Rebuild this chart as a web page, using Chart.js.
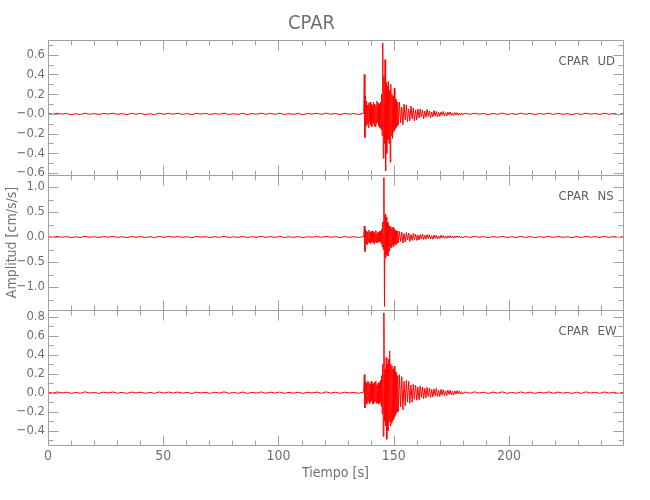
<!DOCTYPE html>
<html>
<head>
<meta charset="utf-8">
<title>CPAR</title>
<script src="https://cdn.jsdelivr.net/npm/chart.js@4.4.1/dist/chart.umd.min.js"></script>
<style>
  html, body { margin: 0; padding: 0; background: #fff; }
</style>
</head>
<body>
<canvas id="chart" width="650" height="500"></canvas>
<script>
const FONT = "'Liberation Sans Narrow', 'DejaVu Sans Condensed', sans-serif";
const TEXT_GRAY = '#707070';
const AXIS_GRAY = '#a0a0a0';

const STATION = 'CPAR';
const COMPONENTS = ['UD', 'NS', 'EW'];

// time axis (s)
const X_MAX = 249.5;
const X_TICKS = [0, 50, 100, 150, 200];
const X_MINOR = [10, 20, 30, 40, 60, 70, 80, 90, 110, 120, 130, 140, 160, 170, 180, 190, 210, 220, 230, 240];

// time windows of each piece of the trace: quiet, event (0.25 s), coda (0.5 s), quiet
const PRE_SPAN = [0, 136.75];
const EVENT_SPAN = [137, 152];
const CODA_SPAN = [152.5, 180];
const POST_SPAN = [181, 249.5];

// amplitude axes (cm/s/s)
const UD_RANGE = [-0.62, 0.75];
const UD_TICKS = [-0.6, -0.4, -0.2, 0, 0.2, 0.4, 0.6];
const UD_LABELS = ['\u22120.6', '\u22120.4', '\u22120.2', '\u22120.0', '0.2', '0.4', '0.6'];
const UD_MINOR = [-0.5, -0.3, -0.1, 0.1, 0.3, 0.5, 0.7];

const NS_RANGE = [-1.46, 1.24];
const NS_TICKS = [-1.0, -0.5, 0, 0.5, 1.0];
const NS_LABELS = ['\u22121.0', '\u22120.5', '0.0', '0.5', '1.0'];
const NS_MINOR = [-1.25, -0.75, -0.25, 0.25, 0.75];

const EW_RANGE = [-0.55, 0.87];
const EW_TICKS = [-0.4, -0.2, 0, 0.2, 0.4, 0.6, 0.8];
const EW_LABELS = ['\u22120.4', '\u22120.2', '0.0', '0.2', '0.4', '0.6', '0.8'];
const EW_MINOR = [-0.5, -0.3, -0.1, 0.1, 0.3, 0.5, 0.7];

// UD trace
const UD_PRE = [
  0.006, -0.004, 0.007, -0.003, 0.005, -0.007, 0.002, -0.006, 0.008, -0.004,
  0.003, -0.006, 0.005, -0.002, 0.007, -0.005, 0.004, -0.008, 0.006, -0.003,
  0.005, -0.006, 0.002, -0.007, 0.008, -0.004, 0.006, -0.003, 0.007, -0.005,
  0.003, -0.008, 0.006, -0.002, 0.005, -0.006, 0.004, -0.004, 0.008, -0.006,
  0.002, -0.005, 0.007, -0.007, 0.004, -0.003, 0.008, -0.005, 0.005, -0.004,
  0.007, -0.006, 0.003, -0.005, 0.006, -0.008, 0.004, -0.002, 0.006, -0.005,
  0.008, -0.004, 0.005, -0.007, 0.006, -0.003, 0.004, -0.006, 0.005
];
const UD_EVENT = [
  0.02, 0.40, -0.24, 0.18,
  -0.12, 0.13, -0.10, 0.09,
  -0.14, 0.11, -0.08, 0.12,
  -0.11, 0.10, -0.13, 0.08,
  -0.09, 0.12, -0.12, 0.10,
  -0.13, 0.09, -0.10, 0.13,
  -0.08, 0.11, -0.12, 0.10,
  -0.14, 0.12, -0.16, 0.20,
  -0.22, 0.72, -0.45, 0.38,
  -0.30, 0.55, -0.58, 0.32,
  -0.40, 0.28, -0.26, 0.33,
  -0.30, 0.24, -0.49, 0.30,
  -0.22, 0.20, -0.25, 0.18,
  -0.18, 0.26, -0.16, 0.15,
  -0.14, 0.13, -0.12, 0.12,
  -0.11
];
const UD_CODA = [
  0.12, -0.09, 0.07, -0.11, 0.10, -0.06, 0.09, -0.08, 0.05, -0.07,
  0.08, -0.05, 0.06, -0.07, 0.04, -0.06, 0.05, -0.04, 0.05, -0.03,
  0.04, -0.05, 0.03, -0.035, 0.045, -0.025, 0.03, -0.04, 0.02, -0.03,
  0.035, -0.02, 0.025, -0.03, 0.015, -0.025, 0.02, -0.015, 0.025, -0.02,
  0.012, -0.022, 0.018, -0.01, 0.02, -0.015, 0.01, -0.018, 0.015, -0.01,
  0.012, -0.015, 0.008, -0.012, 0.01, -0.008
];
const UD_POST = [
  0.007, -0.005, 0.006, -0.003, 0.004, -0.007, 0.005, -0.004, 0.008, -0.006,
  0.003, -0.005, 0.007, -0.004, 0.006, -0.007, 0.004, -0.003, 0.007, -0.005,
  0.006, -0.004, 0.003, -0.007, 0.005, -0.006, 0.008, -0.003, 0.004, -0.006,
  0.007, -0.004, 0.005, -0.008, 0.004
];

// NS trace
const NS_PRE = [
  0.010, -0.007, 0.012, -0.005, 0.008, -0.011, 0.004, -0.009, 0.013, -0.006,
  0.005, -0.010, 0.009, -0.004, 0.011, -0.008, 0.006, -0.012, 0.010, -0.005,
  0.008, -0.009, 0.004, -0.011, 0.012, -0.006, 0.010, -0.005, 0.011, -0.008,
  0.005, -0.013, 0.010, -0.004, 0.008, -0.010, 0.007, -0.006, 0.013, -0.009,
  0.004, -0.008, 0.011, -0.011, 0.006, -0.005, 0.012, -0.009, 0.008, -0.006,
  0.011, -0.010, 0.005, -0.008, 0.009, -0.012, 0.006, -0.004, 0.010, -0.008,
  0.013, -0.006, 0.008, -0.011, 0.009, -0.005, 0.007, -0.010, 0.008
];
const NS_EVENT = [
  0.01, 0.22, -0.29, 0.15,
  -0.14, 0.12, -0.15, 0.10,
  -0.10, 0.14, -0.12, 0.09,
  -0.13, 0.11, -0.09, 0.12,
  -0.11, 0.10, -0.14, 0.09,
  -0.10, 0.13, -0.11, 0.08,
  -0.12, 0.10, -0.09, 0.11,
  -0.10, 0.12, -0.13, 0.15,
  -0.20, 0.30, -0.25, 1.19,
  -1.39, 0.45, -0.42, 0.40,
  -0.35, 0.30, -0.38, 0.25,
  -0.28, 0.22, -0.20, 0.21,
  -0.22, 0.18, -0.16, 0.20,
  -0.19, 0.15, -0.14, 0.13,
  -0.15, 0.12, -0.11, 0.12,
  -0.12
];
const NS_CODA = [
  0.11, -0.09, 0.10, -0.12, 0.07, -0.10, 0.09, -0.06, 0.08, -0.09,
  0.05, -0.07, 0.07, -0.05, 0.06, -0.07, 0.04, -0.06, 0.05, -0.04,
  0.06, -0.05, 0.035, -0.045, 0.05, -0.03, 0.045, -0.04, 0.025, -0.045,
  0.04, -0.025, 0.035, -0.04, 0.02, -0.03, 0.035, -0.02, 0.03, -0.025,
  0.018, -0.03, 0.025, -0.015, 0.028, -0.02, 0.015, -0.025, 0.02, -0.015,
  0.022, -0.012, 0.018, -0.02, 0.012, -0.015
];
const NS_POST = [
  0.012, -0.009, 0.011, -0.006, 0.008, -0.012, 0.009, -0.007, 0.013, -0.010,
  0.006, -0.009, 0.012, -0.008, 0.010, -0.013, 0.007, -0.006, 0.012, -0.009,
  0.010, -0.008, 0.006, -0.012, 0.009, -0.010, 0.013, -0.006, 0.008, -0.010,
  0.012, -0.007, 0.009, -0.013, 0.008
];

// EW trace
const EW_PRE = [
  0.007, -0.005, 0.008, -0.003, 0.006, -0.007, 0.003, -0.006, 0.009, -0.004,
  0.003, -0.007, 0.006, -0.003, 0.007, -0.006, 0.004, -0.008, 0.007, -0.003,
  0.006, -0.006, 0.003, -0.007, 0.008, -0.004, 0.007, -0.004, 0.007, -0.005,
  0.004, -0.009, 0.007, -0.003, 0.005, -0.007, 0.005, -0.004, 0.009, -0.006,
  0.003, -0.006, 0.007, -0.008, 0.004, -0.004, 0.008, -0.006, 0.006, -0.004,
  0.007, -0.007, 0.003, -0.005, 0.006, -0.008, 0.005, -0.003, 0.007, -0.006,
  0.009, -0.004, 0.005, -0.007, 0.006, -0.003, 0.004, -0.007, 0.006
];
const EW_EVENT = [
  0.01, 0.19, -0.16, 0.12,
  -0.12, 0.10, -0.11, 0.12,
  -0.09, 0.11, -0.12, 0.09,
  -0.10, 0.12, -0.08, 0.10,
  -0.12, 0.09, -0.10, 0.11,
  -0.09, 0.12, -0.11, 0.08,
  -0.11, 0.10, -0.12, 0.11,
  -0.10, 0.13, -0.14, 0.18,
  -0.22, 0.30, -0.46, 0.84,
  -0.30, 0.25, -0.35, 0.37,
  -0.49, 0.30, -0.40, 0.35,
  -0.30, 0.44, -0.35, 0.30,
  -0.32, 0.28, -0.30, 0.25,
  -0.28, 0.28, -0.25, 0.22,
  -0.22, 0.20, -0.20, 0.18,
  -0.20
];
const EW_CODA = [
  0.19, -0.15, 0.17, -0.18, 0.12, -0.14, 0.13, -0.10, 0.12, -0.11,
  0.08, -0.10, 0.09, -0.07, 0.08, -0.08, 0.06, -0.075, 0.07, -0.05,
  0.06, -0.065, 0.045, -0.055, 0.055, -0.04, 0.05, -0.05, 0.035, -0.045,
  0.04, -0.03, 0.045, -0.04, 0.025, -0.04, 0.035, -0.025, 0.032, -0.03,
  0.02, -0.03, 0.028, -0.018, 0.026, -0.022, 0.015, -0.026, 0.02, -0.016,
  0.022, -0.012, 0.018, -0.015, 0.01, -0.012
];
const EW_POST = [
  0.008, -0.006, 0.009, -0.004, 0.006, -0.008, 0.007, -0.005, 0.009, -0.007,
  0.004, -0.006, 0.008, -0.005, 0.007, -0.008, 0.005, -0.004, 0.008, -0.006,
  0.007, -0.005, 0.004, -0.008, 0.006, -0.007, 0.009, -0.004, 0.005, -0.007,
  0.008, -0.005, 0.006, -0.009, 0.005
];

// spread the samples of one piece evenly over its time window
function place(values, span) {
  const step = (span[1] - span[0]) / (values.length - 1);
  return values.map((v, i) => ({ x: span[0] + i * step, y: v }));
}

function trace(pre, event, coda, post) {
  return [
    ...place(pre, PRE_SPAN),
    ...place(event, EVENT_SPAN),
    ...place(coda, CODA_SPAN),
    ...place(post, POST_SPAN),
  ];
}

const panels = [
  { id: 'yUD', comp: COMPONENTS[0], range: UD_RANGE, ticks: UD_TICKS, labels: UD_LABELS, minor: UD_MINOR, data: trace(UD_PRE, UD_EVENT, UD_CODA, UD_POST) },
  { id: 'yNS', comp: COMPONENTS[1], range: NS_RANGE, ticks: NS_TICKS, labels: NS_LABELS, minor: NS_MINOR, data: trace(NS_PRE, NS_EVENT, NS_CODA, NS_POST) },
  { id: 'yEW', comp: COMPONENTS[2], range: EW_RANGE, ticks: EW_TICKS, labels: EW_LABELS, minor: EW_MINOR, data: trace(EW_PRE, EW_EVENT, EW_CODA, EW_POST) },
];

function yScale(p, withTitle) {
  return {
    type: 'linear',
    position: 'left',
    stack: 'traces',
    stackWeight: 1,
    min: p.range[0],
    max: p.range[1],
    grid: { display: false, drawTicks: false },
    border: { display: false },
    afterBuildTicks: (scale) => { scale.ticks = p.ticks.map((v) => ({ value: v })); },
    afterFit: (scale) => { scale.width = 48; },
    ticks: {
      autoSkip: false,
      padding: 3,
      color: TEXT_GRAY,
      font: { family: FONT, size: 13 },
      callback: (value, index) => p.labels[index],
    },
    title: {
      display: withTitle,
      text: 'Amplitud [cm/s/s]',
      color: TEXT_GRAY,
      font: { family: FONT, size: 14 },
      padding: { top: 4, bottom: 0 },
    },
  };
}

// frame of each panel with inward ticks on all four sides, plus station label
const frameTicks = {
  id: 'frameTicks',
  afterDatasetsDraw(chart) {
    const { ctx, chartArea } = chart;
    const x = chart.scales.x;
    const left = Math.round(chartArea.left) + 0.5;
    const right = Math.round(chartArea.right) + 0.5;
    ctx.save();
    ctx.strokeStyle = AXIS_GRAY;
    ctx.lineWidth = 1;
    panels.forEach((p) => {
      const y = chart.scales[p.id];
      const top = Math.round(y.top) + 0.5;
      const bottom = Math.round(y.bottom) + 0.5;
      ctx.beginPath();
      ctx.rect(left, top, right - left, bottom - top);
      const xTick = (v, len) => {
        const px = Math.round(x.getPixelForValue(v)) + 0.5;
        ctx.moveTo(px, top); ctx.lineTo(px, top + len);
        ctx.moveTo(px, bottom); ctx.lineTo(px, bottom - len);
      };
      const yTick = (v, len) => {
        const py = Math.round(y.getPixelForValue(v)) + 0.5;
        ctx.moveTo(left, py); ctx.lineTo(left + len, py);
        ctx.moveTo(right, py); ctx.lineTo(right - len, py);
      };
      X_TICKS.forEach((v) => xTick(v, 10));
      X_MINOR.forEach((v) => xTick(v, 5));
      p.ticks.forEach((v) => yTick(v, 10));
      p.minor.forEach((v) => yTick(v, 5));
      ctx.stroke();

      ctx.fillStyle = '#606060';
      ctx.font = '13px ' + FONT;
      ctx.textBaseline = 'middle';
      ctx.textAlign = 'left';
      ctx.fillText(STATION, right - 65, top + 21);
      ctx.fillText(p.comp, right - 26, top + 21);
    });
    ctx.restore();
  },
};

new Chart(document.getElementById('chart'), {
  type: 'line',
  data: {
    datasets: panels.map((p) => ({
      label: STATION + ' ' + p.comp,
      data: p.data,
      yAxisID: p.id,
      borderColor: '#ff0000',
      borderWidth: 1,
      pointRadius: 0,
      tension: 0,
      fill: false,
    })),
  },
  options: {
    responsive: false,
    animation: false,
    layout: { padding: { left: 0, right: 27, top: 0, bottom: 0 } },
    plugins: {
      legend: { display: false },
      tooltip: { enabled: false },
      title: {
        display: true,
        text: STATION,
        color: TEXT_GRAY,
        font: { family: FONT, size: 20, weight: 'normal' },
        padding: { top: 12, bottom: 4 },
      },
    },
    scales: {
      x: {
        type: 'linear',
        min: 0,
        max: X_MAX,
        grid: { display: false, drawTicks: false },
        border: { display: false },
        afterBuildTicks: (scale) => { scale.ticks = X_TICKS.map((v) => ({ value: v })); },
        afterFit: (scale) => { scale.height = 55; },
        ticks: {
          autoSkip: false,
          maxRotation: 0,
          padding: 3,
          color: TEXT_GRAY,
          font: { family: FONT, size: 14 },
        },
        title: {
          display: true,
          text: 'Tiempo [s]',
          color: TEXT_GRAY,
          font: { family: FONT, size: 14 },
          padding: { top: 0, bottom: 18 },
        },
      },
      // stacked axes: the last one defined ends up on top
      yEW: yScale(panels[2], false),
      yNS: yScale(panels[1], true),
      yUD: yScale(panels[0], false),
    },
  },
  plugins: [frameTicks],
});
</script>
</body>
</html>
